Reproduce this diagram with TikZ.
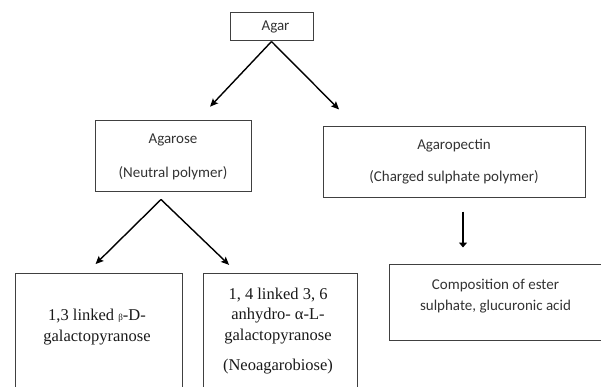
\documentclass[tikz,border=0pt]{standalone}
\usepackage{fontspec}
\setmainfont{Liberation Serif}
\newfontfamily\calibri{Carlito}
\usetikzlibrary{arrows.meta}
\tikzset{
  box/.style={draw=black!75, line width=1pt, inner sep=0pt},
  sanstext/.style={font=\calibri\fontsize{15}{18}\selectfont, text=black!80, align=center},
  seriftext/.style={font=\fontsize{16.5}{20.5}\selectfont, text=black!90, align=center},
  link/.style={-{Stealth[length=8pt,width=7pt,inset=1.5pt]}, line width=1.4pt},
  fatlink/.style={-{Triangle[length=5pt,width=8pt]}, line width=2.8pt}
}
\begin{document}
\begin{tikzpicture}[x=1pt,y=-1pt]
\useasboundingbox (0,0) rectangle (601,387);
\clip (0,0) rectangle (601,387);
\node[box, sanstext, minimum width=83pt, minimum height=28pt] (agar) at (271.5,27) {\hspace*{8pt}Agar};
\node[box, sanstext, minimum width=156pt, minimum height=71pt] (agarose) at (173,156.5) {Agarose\\[16pt](Neutral polymer)};
\node[box, sanstext, minimum width=262pt, minimum height=70pt] (agaropectin) at (454,162) {Agaropectin\\[14pt](Charged sulphate polymer)};
\node[box, minimum width=216pt, minimum height=76pt] (ester) at (497,302) {};
\node[sanstext] (estertext) at (495.5,296.5) {Composition of ester\\[3pt]sulphate, glucuronic acid};
\node[box, minimum width=167pt, minimum height=127pt] (beta) at (98.5,336.5) {};
\node[seriftext] (betatext) at (97,327) {1,3 linked {\fontsize{9}{9}\selectfont β}-D-\\galactopyranose};
\node[box, minimum width=154pt, minimum height=127pt] (alpha) at (280,336.5) {};
\node[seriftext] (alphatext) at (278,331) {1, 4 linked 3, 6\\anhydro- α-L-\\galactopyranose\\[9.5pt](Neoagarobiose)};
\coordinate (fork) at ([xshift=-12pt,yshift=-7pt]agarose.south);
\draw[link, shorten >=19pt] (agar.south) -- ([xshift=24pt]agarose.north);
\draw[link, shorten >=24pt] (agar.south) -- ([xshift=-98pt]agaropectin.north);
\draw[link, shorten >=12pt] (fork) -- ([xshift=-11.5pt]beta.north);
\draw[link, shorten >=11pt] (fork) -- ([xshift=-43pt]alpha.north);
\draw[fatlink, shorten <=14pt, shorten >=16pt] ([xshift=9pt]agaropectin.south) -- ([xshift=9pt]agaropectin.south |- ester.north);
\end{tikzpicture}
\end{document}
